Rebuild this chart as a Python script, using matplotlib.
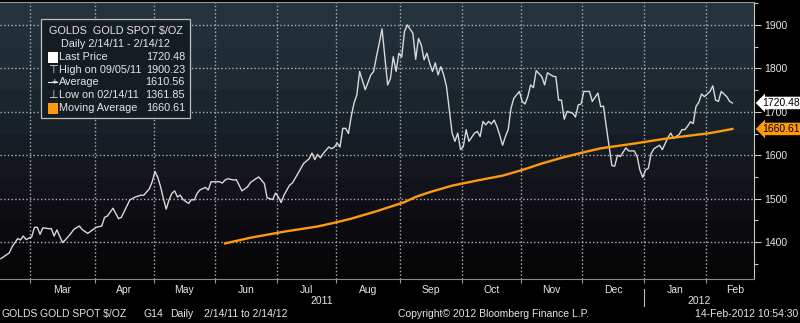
import numpy as np
import pandas as pd
import matplotlib
matplotlib.use("Agg")
import matplotlib.pyplot as plt
import matplotlib.transforms as mtransforms
from matplotlib.patches import Rectangle

plt.rcParams['font.family'] = ['Liberation Sans', 'DejaVu Sans']

start = "2011-02-14"

# trading day number (0 = 2/14/11) and gold spot close, $/oz
price_day = [0, 3, 4, 6, 7, 8, 9, 11, 12, 13, 14, 15, 17, 18, 19, 20, 22, 23, 25, 26,
             28, 29, 31, 34, 36, 37, 38, 40, 41, 42, 43, 45, 46, 48, 50, 51, 53, 54, 55, 56,
             57, 58, 59, 60, 61, 62, 63, 64, 65, 67, 68, 69, 70, 71, 73, 74, 75, 76, 78, 79,
             80, 81, 83, 84, 86, 88, 89, 91, 92, 94, 95, 97, 98, 99, 100, 101, 103, 104, 106, 108,
             110, 111, 112, 113, 114, 115, 117, 118, 119, 120, 121, 122, 123, 124, 125, 126, 127, 128, 130, 132,
             133, 134, 135, 136, 138, 139, 140, 141, 142, 143, 144, 145, 147, 148, 149, 150, 151, 152, 153, 154,
             155, 156, 157, 158, 159, 160, 161, 162, 163, 164, 165, 166, 167, 169, 170, 171, 172, 173, 174, 175,
             176, 177, 178, 179, 180, 181, 182, 183, 185, 186, 187, 188, 189, 190, 191, 193, 194, 195, 197, 198,
             199, 200, 201, 202, 204, 205, 206, 207, 208, 209, 210, 211, 213, 214, 215, 216, 218, 219, 220, 221,
             223, 224, 226, 227, 228, 229, 230, 231, 232, 233, 235, 236, 238, 239, 240, 242, 243, 244, 245, 246,
             247, 248, 249, 250, 251, 252, 253, 254, 255, 256, 257, 259, 260, 261]
price = [1361.85, 1375, 1389, 1408, 1405, 1414, 1406, 1412, 1434, 1434, 1418, 1433, 1431, 1431, 1414, 1428, 1399, 1405, 1420, 1429,
         1437, 1429, 1420, 1434, 1437, 1457, 1460, 1478, 1466, 1454, 1457, 1484, 1497, 1504, 1508, 1508, 1523, 1539, 1563, 1549,
         1527, 1500, 1476, 1497, 1512, 1518, 1504, 1508, 1498, 1489, 1498, 1497, 1512, 1520, 1526, 1520, 1539, 1539, 1539, 1536,
         1543, 1546, 1543, 1544, 1518, 1527, 1537, 1546, 1550, 1535, 1502, 1498, 1513, 1504, 1491, 1508, 1531, 1536, 1558, 1581,
         1592, 1605, 1590, 1602, 1594, 1604, 1619, 1615, 1619, 1628, 1619, 1662, 1662, 1650, 1689, 1720, 1739, 1793, 1751, 1785,
         1793, 1827, 1858, 1891, 1762, 1777, 1827, 1793, 1835, 1826, 1885, 1900.23, 1881, 1821, 1869, 1854, 1820, 1835, 1812, 1793,
         1813, 1785, 1804, 1785, 1758, 1705, 1651, 1632, 1651, 1613, 1620, 1659, 1632, 1651, 1655, 1643, 1678, 1670, 1678, 1672,
         1681, 1666, 1646, 1623, 1643, 1659, 1708, 1731, 1747, 1724, 1718, 1735, 1762, 1756, 1795, 1781, 1762, 1790, 1782, 1781,
         1727, 1727, 1683, 1701, 1697, 1688, 1716, 1718, 1747, 1747, 1747, 1724, 1743, 1712, 1713, 1666, 1576, 1575, 1600, 1597,
         1617, 1610, 1610, 1597, 1566, 1549, 1566, 1570, 1604, 1615, 1623, 1613, 1641, 1651, 1639, 1648, 1659, 1659, 1667, 1677,
         1673, 1712, 1722, 1741, 1735, 1741, 1747, 1760, 1727, 1724, 1747, 1735, 1724, 1720.48]

# moving average
ma_day = [80, 89, 101, 113, 120, 125, 134, 144, 148, 153, 161, 170, 179, 186, 193,
          200, 208, 214, 225, 238, 253, 261]
ma = [1397, 1410, 1424, 1436, 1446, 1454, 1471, 1492, 1504, 1515, 1530, 1542, 1553, 1566, 1581,
      1594, 1607, 1616, 1626, 1639, 1651, 1660.61]

legend_rows = ["Last Price", "High on 09/05/11", "Average", "Low on 02/14/11", "Moving Average"]
legend_vals = ["1720.48", "1900.23", "1610.56", "1361.85", "1660.61"]

txt = '#e6e6e6'
orange = '#ff9a0d'
grid_c = '#b0b4b8'

fig = plt.figure(figsize=(8, 3.23), dpi=100, facecolor='black')
ax = fig.add_axes([0, 1 - 279 / 323, 754 / 800, 277 / 323])

xmin, xmax = -0.3, 268.7
ymin, ymax = 1315, 1953

# banded dark background, one shade per 50 $
anchor_p = [1315, 1400, 1500, 1600, 1700, 1800, 1953]
anchor_c = np.array([(4, 4, 5), (9, 9, 12), (17, 16, 24), (21, 26, 32),
                     (26, 35, 42), (31, 43, 51), (37, 51, 61)]) / 255.0
band_lo = np.arange(1300, 1951, 50)
for lo in band_lo:
    mid = lo + 25
    col = [np.interp(mid, anchor_p, anchor_c[:, k]) for k in range(3)]
    ax.axhspan(lo, lo + 50, color=col, linewidth=0, zorder=0)

ax.set_xlim(xmin, xmax)
ax.set_ylim(ymin, ymax)

# month boundaries on a trading-day axis
bdays = pd.bdate_range(start, periods=290)
starts = [i for i in range(1, len(bdays)) if bdays[i].month != bdays[i - 1].month]
bounds = [i - 0.5 for i in starts]
inside = [b for b in bounds if b < xmax]
centers = [(a + b) / 2 for a, b in zip(bounds[:-1], bounds[1:]) if (a + b) / 2 < xmax]
names = [bdays[i].strftime('%b') for i in starts][:len(centers)]

ax.set_xticks(inside)
ax.set_xticklabels([])
ax.set_xticks(centers, minor=True)
ax.set_xticklabels(names, minor=True)
ax.tick_params(axis='x', which='major', length=3, color='#9a9a9a', direction='out')
ax.tick_params(axis='x', which='minor', length=0, pad=4, labelsize=7.5, labelcolor=txt)

yt = np.arange(1400, 1901, 100)
ax.yaxis.tick_right()
ax.set_yticks(yt)
ax.set_yticks(np.arange(1350, 1951, 50), minor=True)
ax.tick_params(axis='y', which='major', length=5, width=0.8, color='#c8c8c8',
               labelsize=7.5, labelcolor=txt, pad=2)
ax.tick_params(axis='y', which='minor', length=3, width=0.8, color='#c8c8c8')

# dotted grid
for b in inside:
    ax.axvline(b, color=grid_c, linestyle=':', linewidth=1.0, zorder=1)
for v in yt:
    ax.axhline(v, color=grid_c, linestyle=':', linewidth=1.0, zorder=1)

ax.spines['left'].set_visible(False)
ax.spines['top'].set_color('#9a9a9a')
ax.spines['bottom'].set_color('#8a8a8a')
ax.spines['right'].set_color('#c8c8c8')

ax.plot(price_day, price, color='#d9d9d9', linewidth=1.0, zorder=3)
ax.plot(ma_day, ma, color=orange, linewidth=1.7, zorder=3)

# price tags on the right axis
tb = mtransforms.blended_transform_factory(ax.transAxes, ax.transData)
ax.text(1.011, price[-1], f"{price[-1]:.2f}", transform=tb, fontsize=7.5, color='black',
        va='center', ha='left', clip_on=False, zorder=6,
        bbox=dict(boxstyle='larrow,pad=0.12', fc='white', ec='none'))
ax.text(1.011, ma[-1], f"{ma[-1]:.2f}", transform=tb, fontsize=7.5, color='black',
        va='center', ha='left', clip_on=False, zorder=6,
        bbox=dict(boxstyle='larrow,pad=0.12', fc=orange, ec='none'))

# year labels under the months
jan = bounds[starts.index(next(i for i in starts if bdays[i].year == 2012))]
yb = mtransforms.blended_transform_factory(ax.transData, ax.transAxes)
ax.text((xmin + jan) / 2, -0.079, "2011", transform=yb, ha='center', va='center',
        fontsize=7.5, color=txt, clip_on=False)
ax.text((jan + xmax) / 2, -0.079, "2012", transform=yb, ha='center', va='center',
        fontsize=7.5, color=txt, clip_on=False)
ax.plot([jan, jan], [-0.035, -0.097], transform=yb, color='#bbbbbb', linewidth=0.8,
        clip_on=False)

# legend box
def px(x, y):
    return x / 800, 1 - y / 323

ft = fig.transFigure
lfs = 7.8
lx, ly = px(41, 118)
ax.add_patch(Rectangle((lx, ly), 149 / 800, 99 / 323, transform=ft, fc='#151d23',
                       ec='#c8c8c8', lw=0.9, alpha=0.95, zorder=7, clip_on=False))
ax.text(*px(115.5, 31), "GOLDS  GOLD SPOT $/OZ", transform=ft, ha='center', va='center',
        fontsize=lfs, color=txt, zorder=8)
ax.text(*px(115.5, 44), "Daily 2/14/11 - 2/14/12", transform=ft, ha='center', va='center',
        fontsize=lfs, color=txt, zorder=8)
row_y = [57, 70, 82, 95, 108]
for lab, val, yy in zip(legend_rows, legend_vals, row_y):
    ax.text(*px(59, yy), lab, transform=ft, ha='left', va='center', fontsize=lfs,
            color=txt, zorder=8)
    ax.text(*px(185, yy), val, transform=ft, ha='right', va='center', fontsize=lfs,
            color=txt, zorder=8)
sx, sy = px(48, row_y[0] + 5.5)
ax.add_patch(Rectangle((sx, sy), 10 / 800, 11 / 323, transform=ft, fc='white', ec='none',
                       zorder=8, clip_on=False))
sx, sy = px(48, row_y[4] + 5.5)
ax.add_patch(Rectangle((sx, sy), 10 / 800, 11 / 323, transform=ft, fc=orange, ec='none',
                       zorder=8, clip_on=False))
ax.text(*px(53, row_y[1]), "\u22a4", transform=ft, ha='center', va='center', fontsize=8,
        color=txt, zorder=8, family='DejaVu Sans')
ax.text(*px(53, row_y[3]), "\u22a5", transform=ft, ha='center', va='center', fontsize=8,
        color=txt, zorder=8, family='DejaVu Sans')
ax.text(*px(54, row_y[2]), "+", transform=ft, ha='center', va='center', fontsize=7,
        color=txt, zorder=8)
ax.plot([px(48, 0)[0], px(57, 0)[0]], [px(0, row_y[2])[1]] * 2, transform=ft,
        color=txt, linewidth=0.8, zorder=8, clip_on=False)

# footer
foot = 1 - 314 / 323
fig.text(1 / 800, foot, "GOLDS", fontsize=7.5, color=txt, va='center')
fig.text(40 / 800, foot, "GOLD SPOT $/OZ", fontsize=7.5, color=txt, va='center')
fig.text(143 / 800, foot, "G14", fontsize=7.5, color=txt, va='center')
fig.text(170 / 800, foot, "Daily", fontsize=7.5, color=txt, va='center')
fig.text(204 / 800, foot, "2/14/11 to 2/14/12", fontsize=7.5, color=txt, va='center')
fig.text(398 / 800, foot, "Copyright\u00a9 2012 Bloomberg Finance L.P.", fontsize=7.5,
         color=txt, va='center')
fig.text(798 / 800, foot, "14-Feb-2012 10:54:30", fontsize=7.5, color=txt, va='center',
         ha='right')

fig.savefig('out.png', dpi=100, facecolor='black')
